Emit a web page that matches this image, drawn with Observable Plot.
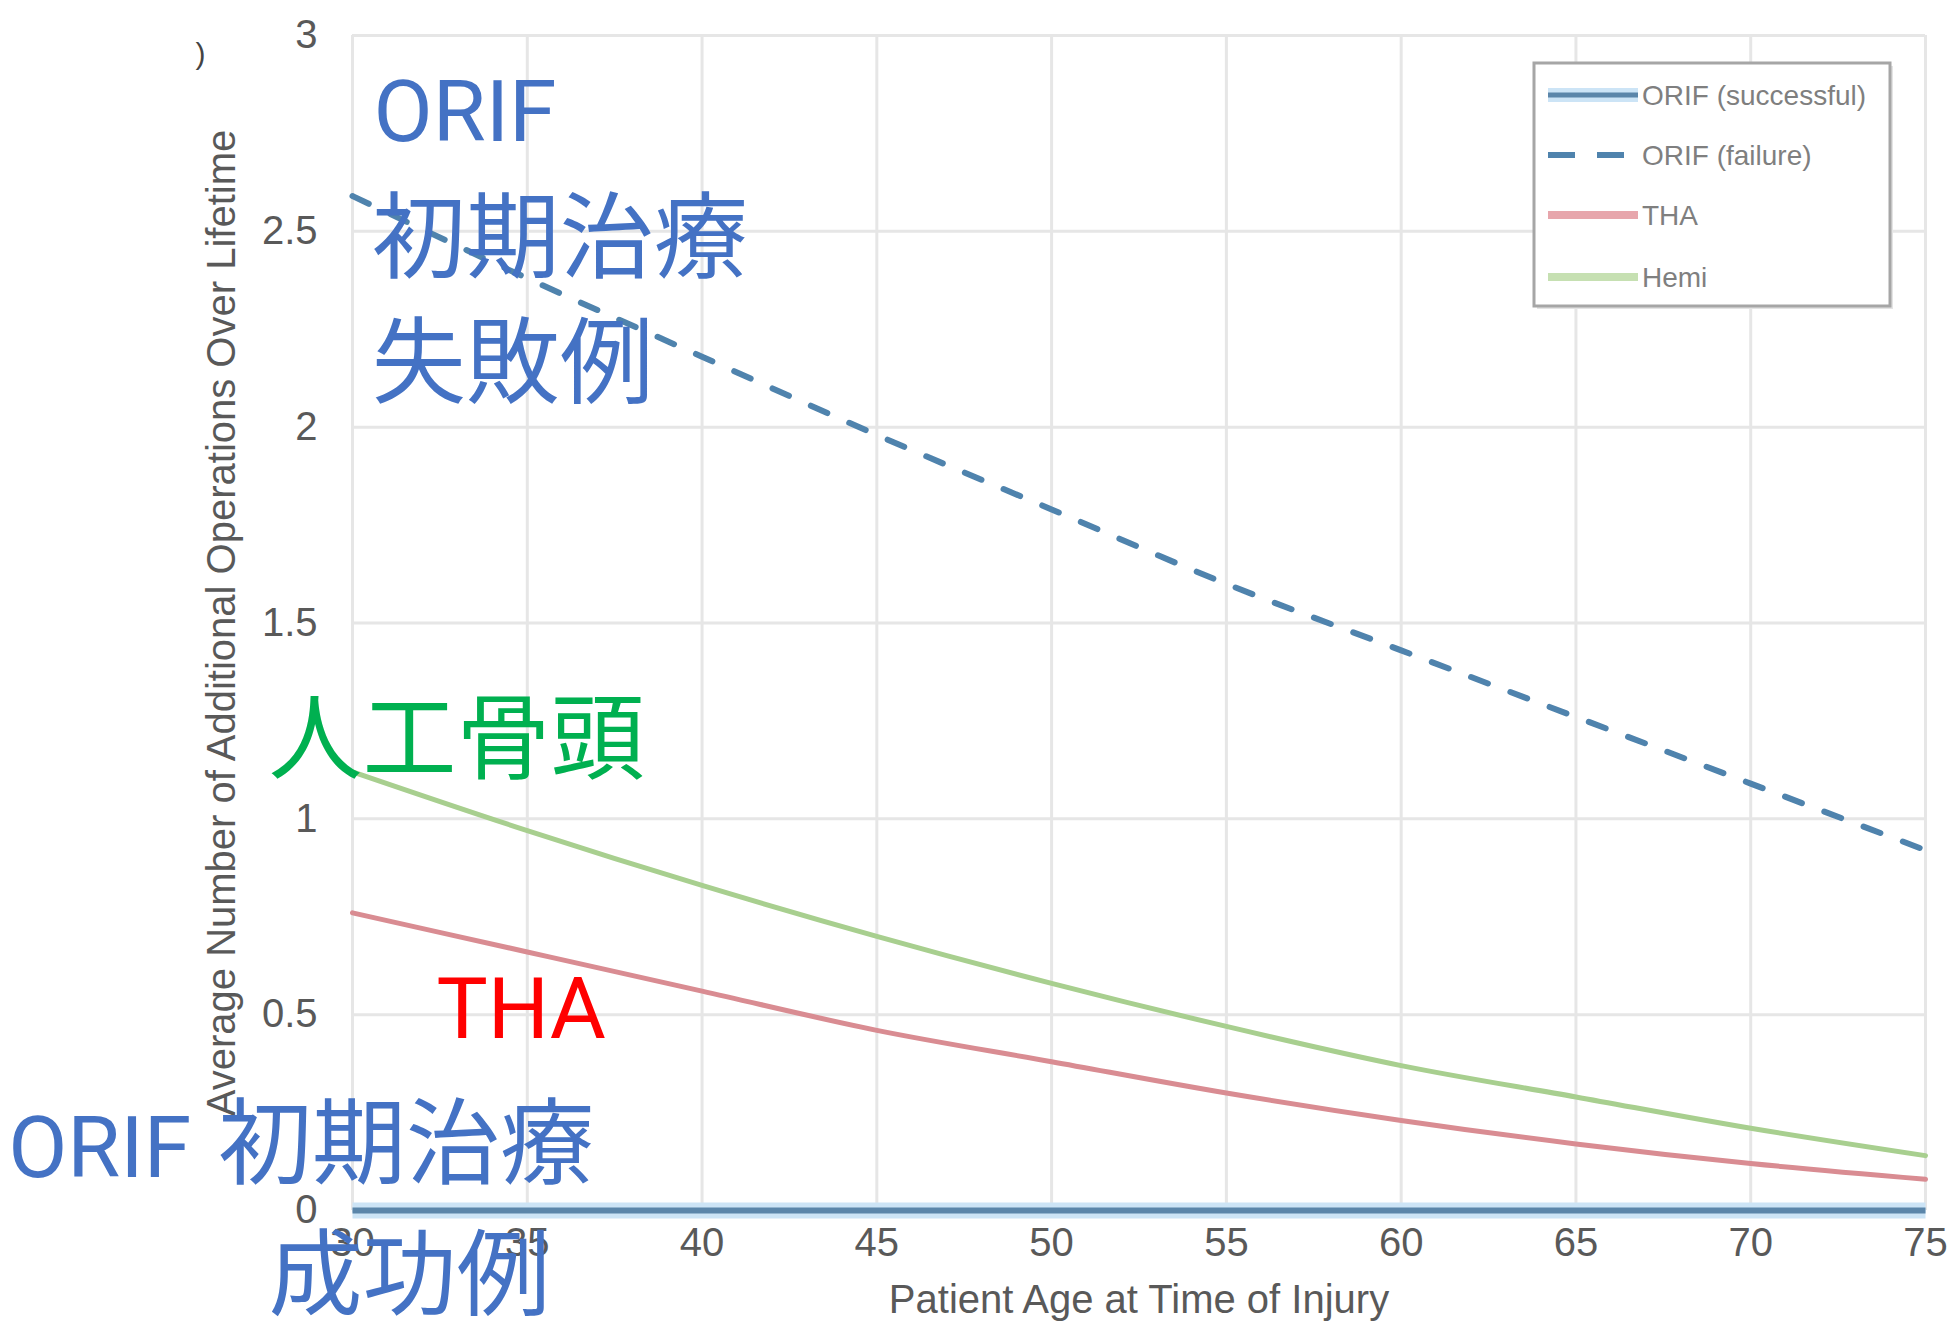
<!DOCTYPE html>
<html>
<head>
<meta charset="utf-8">
<script src="https://cdn.jsdelivr.net/npm/d3@7"></script>
<script src="https://cdn.jsdelivr.net/npm/@observablehq/plot@0.6"></script>
<style>
  html, body { margin: 0; padding: 0; background: #fff; }
  #wrap { position: relative; width: 1954px; height: 1322px; overflow: hidden; background: #fff; }
</style>
</head>
<body>
<div id="wrap"></div>
<script>
// ---------------- data ----------------
const ages = [30, 35, 40, 45, 50, 55, 60, 65, 70, 75];
const orifSuccessful = [0, 0, 0, 0, 0, 0, 0, 0, 0, 0];
const orifFailure    = [2.59, 2.38, 2.18, 1.98, 1.79, 1.60, 1.43, 1.26, 1.09, 0.92];
const tha            = [0.76, 0.66, 0.56, 0.46, 0.38, 0.30, 0.23, 0.17, 0.12, 0.08];
const hemi           = [1.12, 0.97, 0.83, 0.70, 0.58, 0.47, 0.37, 0.29, 0.21, 0.14];

const seriesNames = ["ORIF (successful)", "ORIF (failure)", "THA", "Hemi"];
const xTicks = [30, 35, 40, 45, 50, 55, 60, 65, 70, 75];
const yTicks = [0, 0.5, 1, 1.5, 2, 2.5, 3];
const yTickLabels = ["0", "0.5", "1", "1.5", "2", "2.5", "3"];
const xTitle = "Patient Age at Time of Injury";
const yTitle = "Average Number of Additional Operations Over Lifetime";

// annotation labels (Latin and Japanese parts), anchored in data coordinates (age, value)
const latinText   = ["ORIF", "THA", "ORIF"];
const latinAge    = [30.6, 32.4, 20.15];
const latinValue  = [2.73, 0.44, 0.085];
const latinColor  = ["#4472c4", "#ff0000", "#4472c4"];

const cjkText  = ["初期治療", "失敗例", "人工骨頭", "初期治療", "成功例"];
const cjkAge   = [30.55, 30.55, 27.6, 26.15, 27.6];
const cjkValue = [2.40, 2.08, 1.12, 0.085, -0.248];
const cjkColor = ["#4472c4", "#4472c4", "#00b050", "#4472c4", "#4472c4"];

// ---------------- styles ----------------
const tickColor = "#595959";
const gridColor = "#e6e6e6";
const succHalo = "#cce4f6", succCore = "#5b86aa";
const failColor = "#4f83ad", failDash = "18 24";
const thaColor = "#d98c92";
const hemiColor = "#a8cf8f";

const rows = (vals) => ages.map((a, i) => ({age: a, value: vals[i]}));
const labelRows = (texts, xs, ys, cs) => texts.map((t, i) => ({text: t, age: xs[i], value: ys[i], color: cs[i]}));

const plot = Plot.plot({
  width: 1954,
  height: 1322,
  marginLeft: 352,
  marginRight: 29,
  marginTop: 35,
  marginBottom: 112,
  x: {domain: [30, 75]},
  y: {domain: [0, 3]},
  color: {type: "identity"},
  style: {fontFamily: "'Liberation Sans', Arial, sans-serif", fontSize: "40px", color: tickColor, background: "#fff", overflow: "visible"},
  marks: [
    Plot.gridX(xTicks, {stroke: gridColor, strokeOpacity: 1, strokeWidth: 3}),
    Plot.gridY(yTicks, {stroke: gridColor, strokeOpacity: 1, strokeWidth: 3}),
    Plot.axisX(xTicks, {tickSize: 0, tickPadding: 17, label: null, fontSize: 40, fill: tickColor}),
    Plot.axisY(yTicks, {tickSize: 0, tickPadding: 35, label: null, fontSize: 40, fill: tickColor,
      tickFormat: d => yTickLabels[yTicks.indexOf(d)]}),
    Plot.text([xTitle], {frameAnchor: "bottom", dy: 90, text: d => d, fontSize: 40, fill: tickColor,
      textAnchor: "middle", lineAnchor: "middle"}),
    Plot.text([yTitle], {frameAnchor: "left", dx: -130, rotate: -90, text: d => d, fontSize: 40, fill: tickColor,
      textAnchor: "middle", lineAnchor: "middle"}),
    Plot.text([")"], {frameAnchor: "top-left", dx: -152, dy: 19, text: d => d, fontSize: 30, fill: "#444",
      textAnchor: "middle", lineAnchor: "middle"}),
    Plot.line(rows(hemi), {x: "age", y: "value", stroke: hemiColor, strokeWidth: 5, curve: "monotone-x"}),
    Plot.line(rows(tha), {x: "age", y: "value", stroke: thaColor, strokeWidth: 5, curve: "monotone-x"}),
    Plot.line(rows(orifFailure), {x: "age", y: "value", stroke: failColor, strokeWidth: 6, strokeDasharray: failDash, curve: "monotone-x"}),
    Plot.line(rows(orifSuccessful), {x: "age", y: "value", stroke: succHalo, strokeWidth: 16, strokeLinecap: "butt"}),
    Plot.line(rows(orifSuccessful), {x: "age", y: "value", stroke: succCore, strokeWidth: 6, strokeLinecap: "butt"}),
    Plot.text(labelRows(latinText, latinAge, latinValue, latinColor), {x: "age", y: "value", text: "text", fill: "color",
      fontSize: 86, fontFamily: "Roboto, 'Noto Sans', sans-serif", textAnchor: "start", lineAnchor: "bottom"}),
    Plot.text(labelRows(cjkText, cjkAge, cjkValue, cjkColor), {x: "age", y: "value", text: "text", fill: "color",
      fontSize: 94, fontFamily: "'Noto Sans CJK JP', sans-serif", textAnchor: "start", lineAnchor: "bottom"})
  ]
});
document.getElementById("wrap").appendChild(plot);

// ---------------- legend ----------------
const lg = d3.select("#wrap").append("svg")
  .attr("width", 372).attr("height", 260)
  .style("position", "absolute").style("left", "1528px").style("top", "57px");
lg.append("rect").attr("x", 9).attr("y", 9).attr("width", 356).attr("height", 243).attr("fill", "#e4e4e4");
lg.append("rect").attr("x", 6).attr("y", 6).attr("width", 356).attr("height", 243)
  .attr("fill", "#fff").attr("stroke", "#a6a6a6").attr("stroke-width", 3);
const rowY = [38, 98, 158, 220];
const legendStyles = [
  [{stroke: succHalo, w: 14, dash: null}, {stroke: succCore, w: 5, dash: null}],
  [{stroke: failColor, w: 6, dash: "27 22"}],
  [{stroke: "#e7a6ac", w: 8, dash: null}],
  [{stroke: "#c6e0b2", w: 8, dash: null}]
];
seriesNames.forEach((name, i) => {
  legendStyles[i].forEach(st => {
    lg.append("line").attr("x1", 20).attr("x2", 110).attr("y1", rowY[i]).attr("y2", rowY[i])
      .attr("stroke", st.stroke).attr("stroke-width", st.w).attr("stroke-dasharray", st.dash);
  });
  lg.append("text").attr("x", 114).attr("y", rowY[i]).attr("dy", "0.35em")
    .attr("font-family", "'Liberation Sans', Arial, sans-serif").attr("font-size", 28)
    .attr("fill", "#7f7f7f").text(name);
});
</script>
</body>
</html>
